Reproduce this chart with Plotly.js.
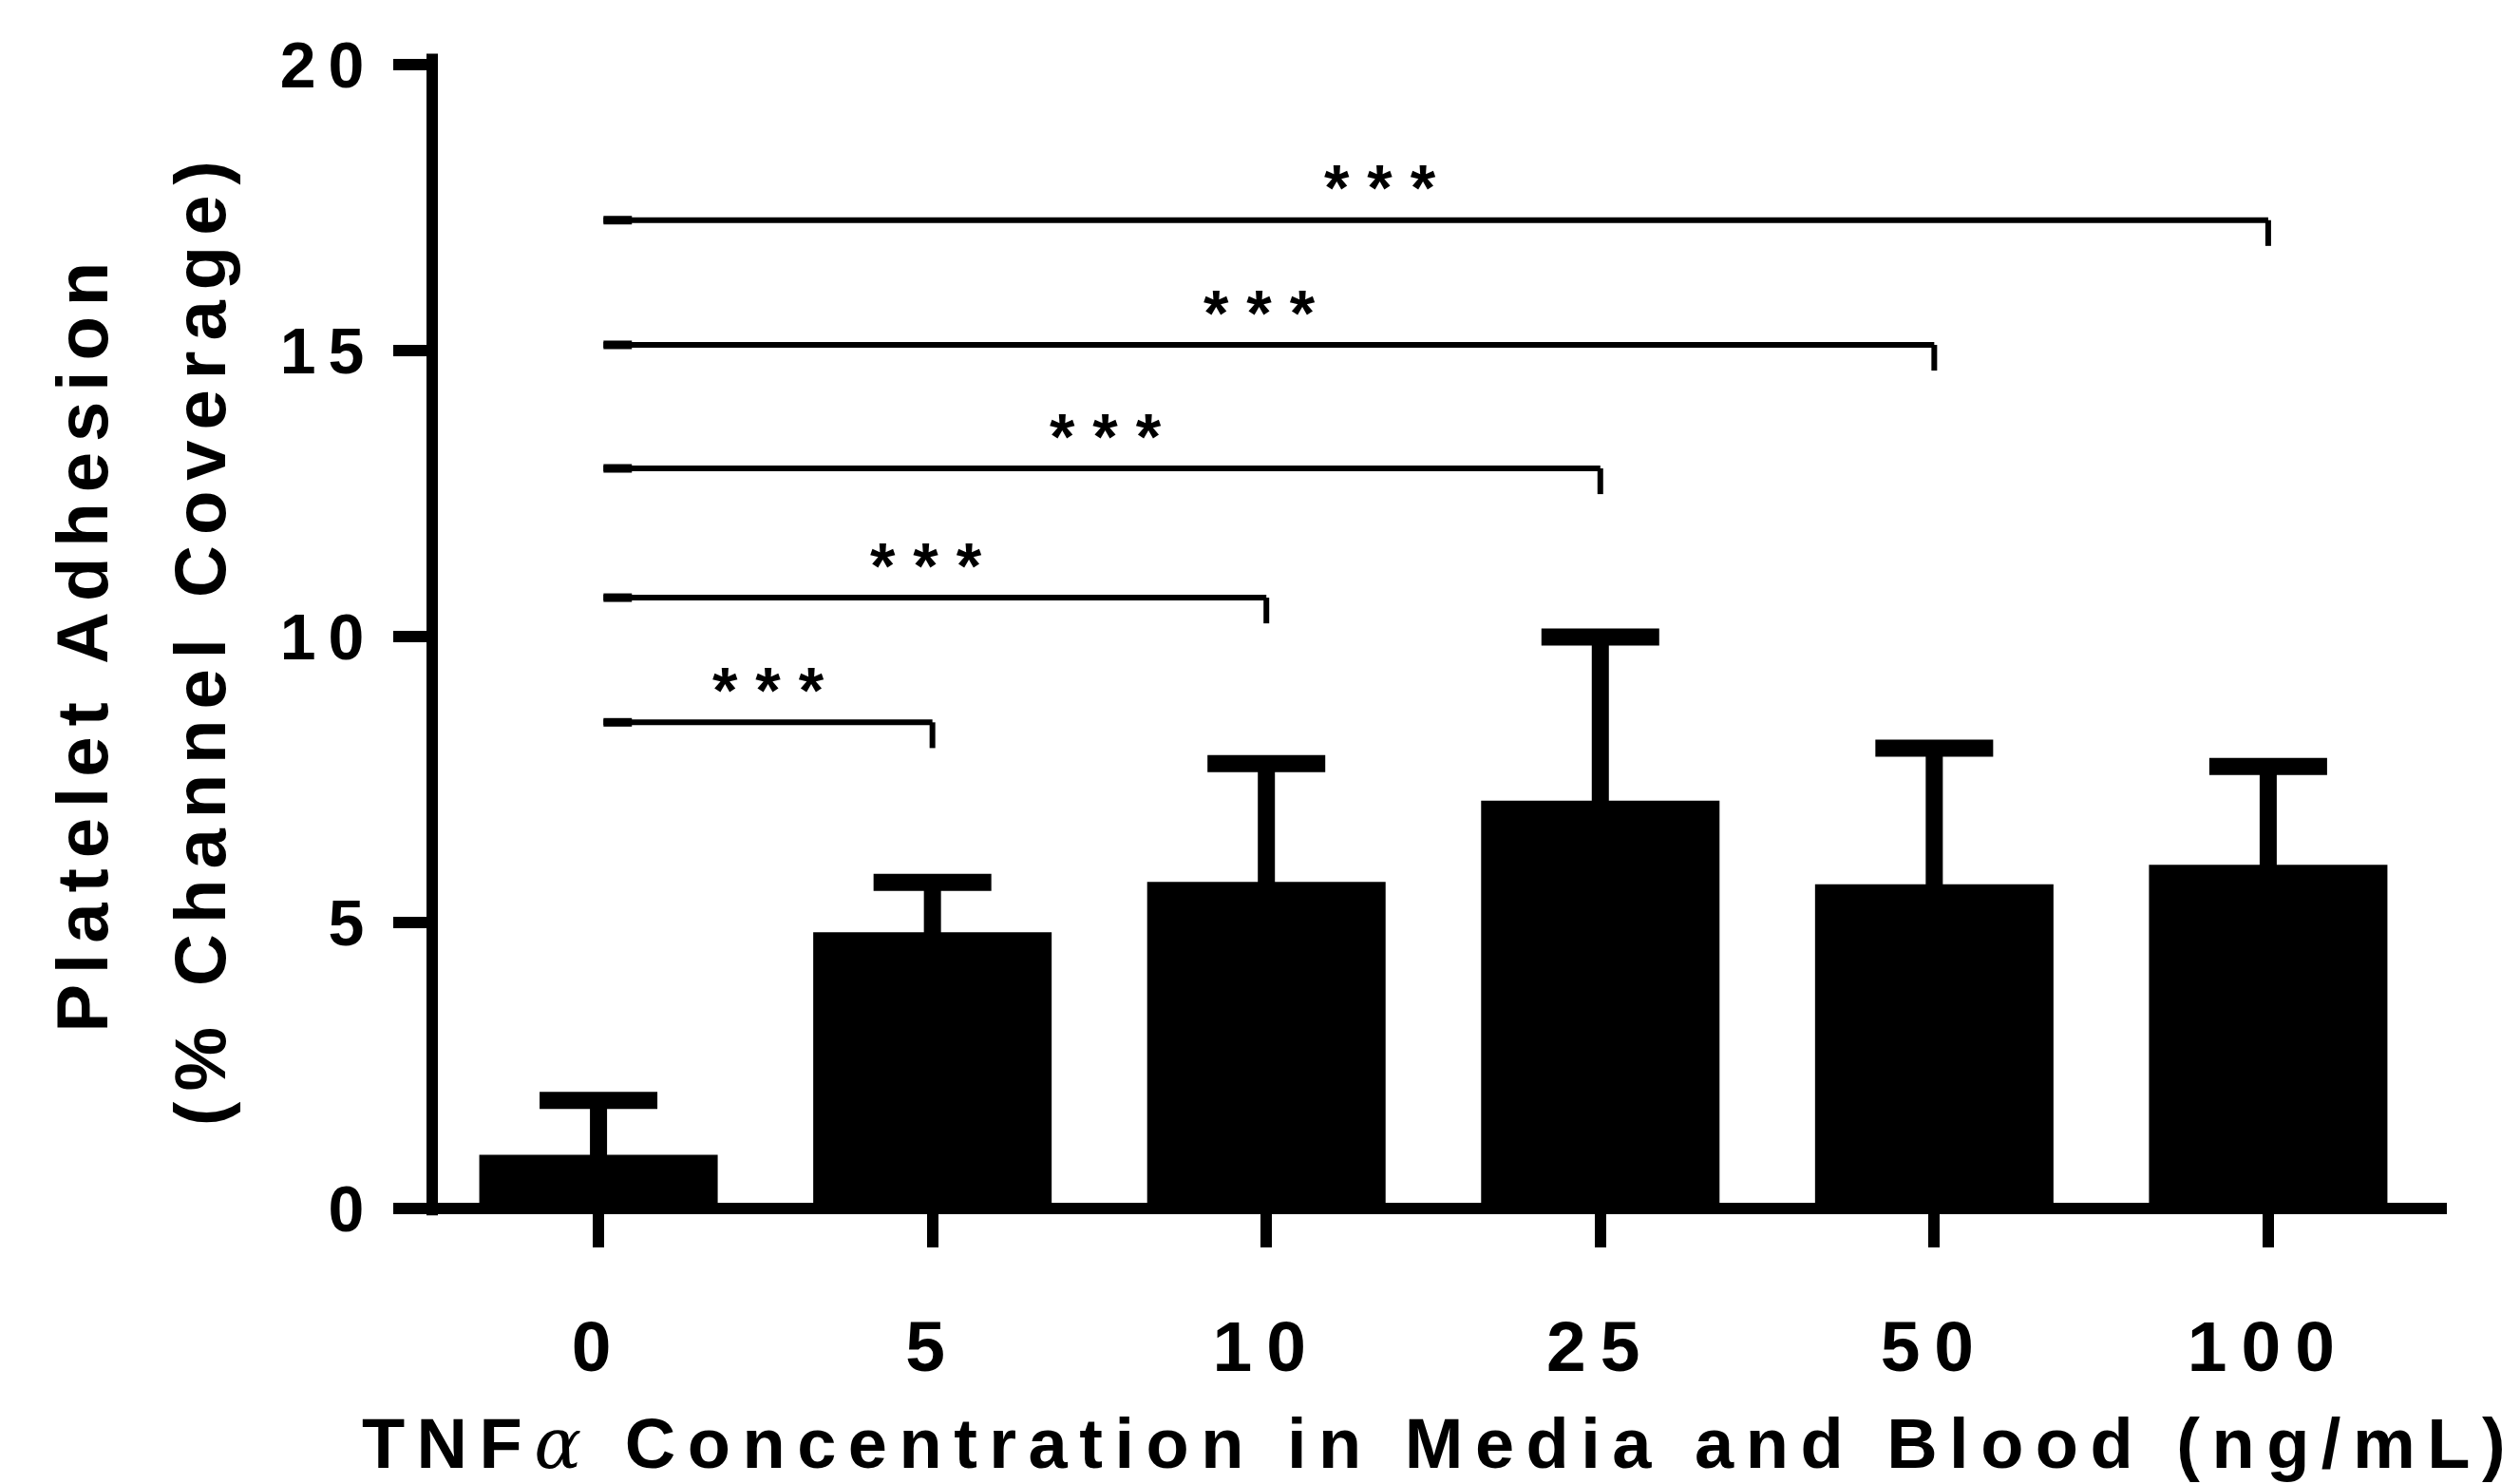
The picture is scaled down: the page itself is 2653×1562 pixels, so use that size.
<!DOCTYPE html>
<html>
<head>
<meta charset="utf-8">
<script src="https://cdn.plot.ly/plotly-3.0.1.min.js"></script>
<style>
  html, body { margin: 0; padding: 0; background: #ffffff; }
  #chart { width: 2653px; height: 1562px; }
  .xtick text { letter-spacing: 15px; }
  .ytick text { letter-spacing: 13px; }
  .xtitle { letter-spacing: 12.5px; }
  .annotation[data-index="0"] text, .annotation[data-index="1"] text { letter-spacing: 11px; }
</style>
</head>
<body>
<div id="chart"></div>
<script>
// ---- data ----
const categories = ['0', '5', '10', '25', '50', '100'];
const meanAdhesion = [0.94, 4.83, 5.71, 7.13, 5.67, 6.01];
const sdAdhesion = [0.95, 0.87, 2.07, 2.86, 2.38, 1.72];
const yTickValues = [0, 5, 10, 15, 20];
const compareFrom = [0, 0, 0, 0, 0];
const compareTo = [1, 2, 3, 4, 5];
const bracketHeight = [8.50, 10.68, 12.94, 15.10, 17.28];
const sigLabel = ['* * *', '* * *', '* * *', '* * *', '* * *'];
const sigLabelX = [0.51, 0.98, 1.52, 1.98, 2.34];
const yTitleLines = ['Platelet Adhesion', '(% Channel Coverage)'];
const xTitleText = 'TNF<span style="font-family:\'DejaVu Serif\';font-style:italic;font-weight:normal">α</span> Concentration in Media and Blood (ng/mL)';

// ---- styles ----
const FONT = 'Liberation Sans, Arial, sans-serif';
const xIdx = categories.map((c, i) => i);

const bars = {
  type: 'bar',
  x: xIdx,
  y: meanAdhesion,
  width: 0.714,
  marker: { color: '#000000', line: { width: 0 } },
  error_y: {
    type: 'data',
    symmetric: true,
    array: sdAdhesion,
    color: '#000000',
    thickness: 18,
    width: 62
  },
  hoverinfo: 'skip',
  showlegend: false
};

const shapes = [];
// axis lines (centered on the zero lines)
shapes.push({ type: 'line', xref: 'paper', yref: 'paper', x0: -0.004, x1: 1.0, y0: 0, y1: 0,
  line: { color: '#000', width: 12 } });
shapes.push({ type: 'line', xref: 'paper', yref: 'paper', x0: 0, x1: 0, y0: -0.006, y1: 1.0095,
  line: { color: '#000', width: 12 } });
// significance brackets
const dropLen = 0.45;
for (let i = 0; i < bracketHeight.length; i++) {
  const h = bracketHeight[i];
  shapes.push({ type: 'line', xref: 'x', yref: 'y', x0: compareFrom[i] + 0.015, x1: compareTo[i], y0: h, y1: h,
    line: { color: '#000', width: 6 } });
  shapes.push({ type: 'line', xref: 'x', yref: 'y', x0: compareFrom[i] + 0.015, x1: compareFrom[i] + 0.1, y0: h, y1: h,
    line: { color: '#000', width: 9 } });
  shapes.push({ type: 'line', xref: 'x', yref: 'y', x0: compareTo[i], x1: compareTo[i], y0: h, y1: h - dropLen,
    line: { color: '#000', width: 6 } });
}

const annotations = [];
const yTitleX = [-0.1737, -0.1153];
const yTitleY = [0.4954, 0.4988];
yTitleLines.forEach((t, i) => {
  annotations.push({
    text: t, xref: 'paper', yref: 'paper', x: yTitleX[i], y: yTitleY[i],
    xanchor: 'center', yanchor: 'middle', textangle: -90, showarrow: false,
    font: { family: FONT, size: 76, color: '#000', weight: 'bold' }
  });
});
for (let i = 0; i < sigLabel.length; i++) {
  annotations.push({
    text: sigLabel[i], xref: 'x', yref: 'y', x: sigLabelX[i], y: bracketHeight[i] + 0.57,
    xanchor: 'center', yanchor: 'middle', showarrow: false,
    font: { family: FONT, size: 68, color: '#000', weight: 'bold' }
  });
}

const layout = {
  width: 2653,
  height: 1562,
  paper_bgcolor: '#ffffff',
  plot_bgcolor: '#ffffff',
  margin: { l: 455, r: 77, t: 68, b: 290 },
  showlegend: false,
  xaxis: {
    range: [-0.498, 5.535],
    tickmode: 'array',
    tickvals: xIdx,
    ticktext: categories,
    ticks: 'outside',
    ticklen: 40,
    tickwidth: 12,
    tickcolor: '#000',
    showline: false,
    showgrid: false,
    zeroline: false,
    ticklabelstandoff: 40,
    tickfont: { family: FONT, size: 75, color: '#000', weight: 'bold' },
    title: {
      text: xTitleText,
      standoff: 60,
      font: { family: FONT, size: 74, color: '#000', weight: 'bold' }
    },
    fixedrange: true
  },
  yaxis: {
    range: [0, 20],
    tickmode: 'array',
    tickvals: yTickValues,
    ticktext: yTickValues.map(String),
    ticks: 'outside',
    ticklen: 40,
    tickwidth: 12,
    tickcolor: '#000',
    showline: false,
    showgrid: false,
    zeroline: false,
    ticklabelstandoff: 4,
    tickfont: { family: FONT, size: 68, color: '#000', weight: 'bold' },
    fixedrange: true
  },
  shapes: shapes,
  annotations: annotations
};

Plotly.newPlot('chart', [bars], layout, { displayModeBar: false, staticPlot: true });
</script>
</body>
</html>
